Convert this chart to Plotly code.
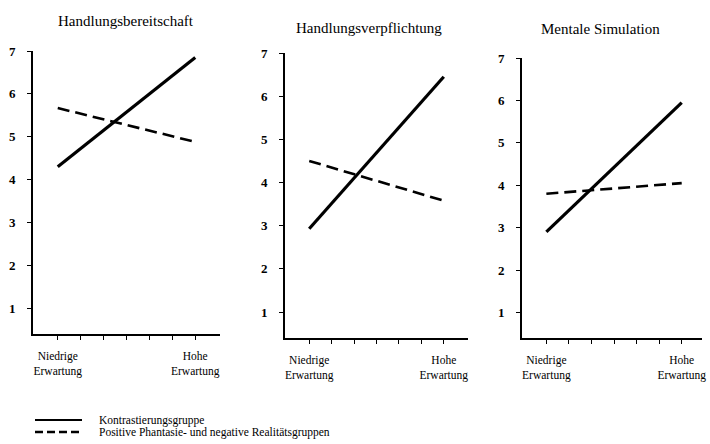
import plotly.graph_objects as go

# Data
conditions = ["Niedrige<br>Erwartung", "Hohe<br>Erwartung"]
panel_titles = ["Handlungsbereitschaft", "Handlungsverpflichtung", "Mentale Simulation"]
series_names = ["Kontrastierungsgruppe", "Positive Phantasie- und negative Realitätsgruppen"]
kontrast = [[4.3, 6.85], [2.93, 6.45], [2.9, 5.95]]
positiv = [[5.67, 4.88], [4.5, 3.58], [3.8, 4.05]]
y_ticks = [1, 2, 3, 4, 5, 6, 7]

W, H = 710, 444
FONT = "Liberation Serif, Times New Roman, serif"

# panel geometry in pixels: (left, right, top(value 7), bottom)
geom = [(33, 220, 51, 334), (285, 468, 53, 338), (522, 702, 58, 338)]
xranges = [[-0.18, 1.18], [-0.18, 1.18], [-0.18, 1.15]]
title_pos = [(126, 21), (369, 28), (600, 29)]

fig = go.Figure()
x_pos = [0, 1]
minor = [i / 6 for i in range(7)]
minor_text = [conditions[0], "", "", "", "", "", conditions[1]]

for i in range(3):
    ax = "" if i == 0 else str(i + 1)
    fig.add_trace(go.Scatter(
        x=x_pos, y=kontrast[i], mode="lines", name=series_names[0],
        line=dict(color="black", width=3.2), showlegend=False,
        xaxis="x" + ax, yaxis="y" + ax))
    fig.add_trace(go.Scatter(
        x=x_pos, y=positiv[i], mode="lines", name=series_names[1],
        line=dict(color="black", width=2.6, dash="12px,6px"), showlegend=False,
        xaxis="x" + ax, yaxis="y" + ax))
    l, r, t, b = geom[i]
    xd = [l / W, r / W]
    yd = [1 - b / H, 1 - t / H]
    fig.update_layout(**{
        "xaxis" + ax: dict(domain=xd, range=xranges[i], tickvals=minor, ticktext=minor_text,
                           ticks="outside", ticklen=4, tickcolor="black", tickwidth=1.2,
                           showline=True, linecolor="black", linewidth=1.6,
                           showgrid=False, zeroline=False, anchor="y" + ax, automargin=False,
                           tickfont=dict(family=FONT, size=11.5, color="black"),
                           ticklabelstandoff=6),
        "yaxis" + ax: dict(domain=yd, range=[0.4, 7], tickvals=y_ticks,
                           ticks="outside", ticklen=4, tickcolor="black", tickwidth=1.2,
                           showline=True, linecolor="black", linewidth=2,
                           showgrid=False, zeroline=False, anchor="x" + ax, automargin=False,
                           tickfont=dict(family=FONT, size=13, color="black", weight="bold"),
                           ticklabelstandoff=9),
    })
    fig.add_annotation(text=panel_titles[i], x=title_pos[i][0] / W, y=1 - title_pos[i][1] / H,
                       xref="paper", yref="paper", showarrow=False, xanchor="center", yanchor="middle",
                       font=dict(family=FONT, size=15, color="black"))

# manual legend (compact rows as in the original)
legend_rows = [(420, dict(color="black", width=2)), (432, dict(color="black", width=2.6, dash="8px,4px"))]
for (yy, ln), name in zip(legend_rows, series_names):
    fig.add_shape(type="line", xref="paper", yref="paper",
                  x0=35 / W, x1=82 / W, y0=1 - yy / H, y1=1 - yy / H, line=ln)
    fig.add_annotation(text=name, x=97 / W, y=1 - yy / H, xref="paper", yref="paper",
                       showarrow=False, xanchor="left", yanchor="middle",
                       font=dict(family=FONT, size=11.5, color="black"))

fig.update_layout(
    width=W, height=H, margin=dict(l=0, r=0, t=0, b=0, autoexpand=False),
    paper_bgcolor="white", plot_bgcolor="white",
    showlegend=False,
)

fig.write_html("out.html", config={"displayModeBar": False},
               post_script="document.body.style.margin='0';")
